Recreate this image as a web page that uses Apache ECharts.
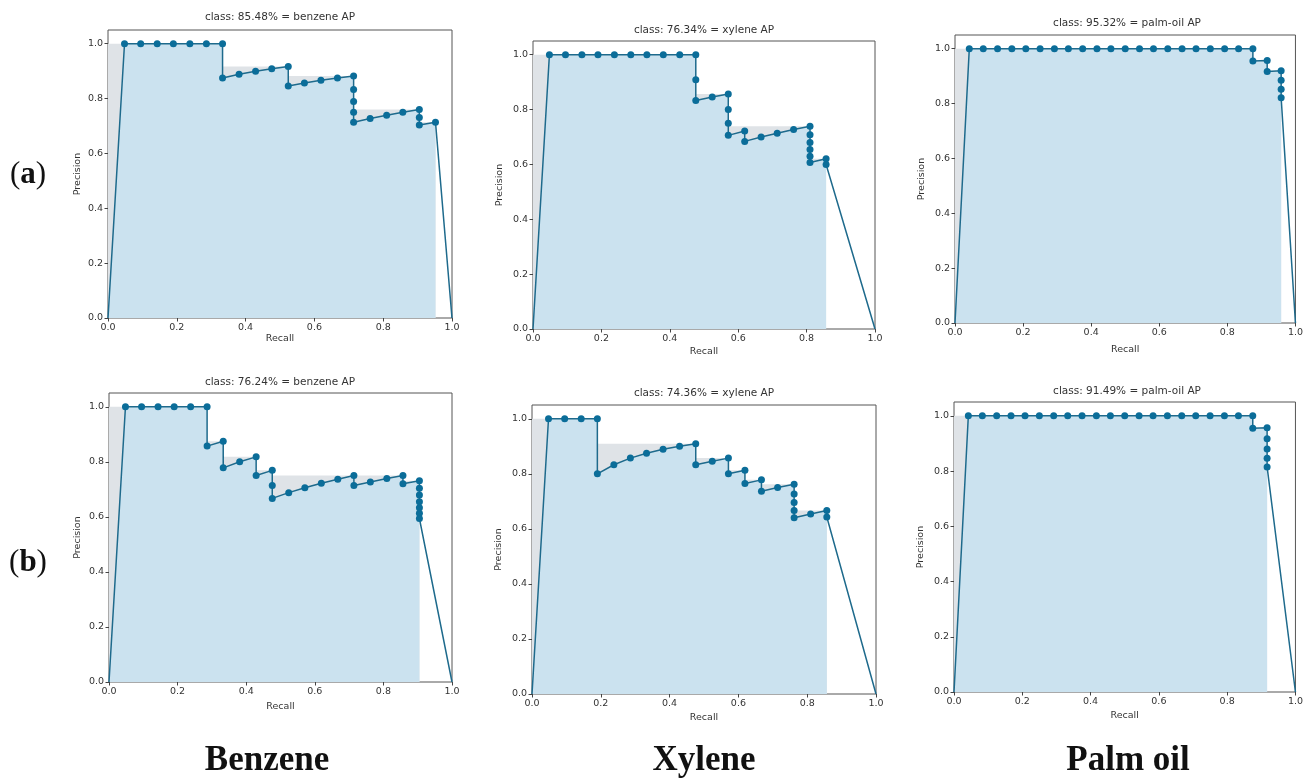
<!DOCTYPE html>
<html>
<head>
<meta charset="utf-8">
<script src="https://cdn.jsdelivr.net/npm/echarts@6/dist/echarts.min.js"></script>
<style>html,body{margin:0;padding:0;background:#fff;}#c{width:1306px;height:780px;}</style>
</head>
<body>
<div id="c"></div>
<script>
// ---- data ----
const titles = [
  'class: 85.48% = benzene AP', 'class: 76.34% = xylene AP', 'class: 95.32% = palm-oil AP',
  'class: 76.24% = benzene AP', 'class: 74.36% = xylene AP', 'class: 91.49% = palm-oil AP'
];
const columnLabels = ['Benzene', 'Xylene', 'Palm oil'];
const rowLabels = ['a', 'b'];
const xTicks = [0, 0.2, 0.4, 0.6, 0.8, 1.0];
const yTicks = [0, 0.2, 0.4, 0.6, 0.8, 1.0];

const recBenzeneA = [0.048,0.095,0.143,0.190,0.238,0.286,0.333,0.333,0.381,0.429,0.476,0.524,0.524,0.571,0.619,0.667,0.714,0.714,0.714,0.714,0.714,0.762,0.810,0.857,0.905,0.905,0.905,0.952];
const precBenzeneA = [1,1,1,1,1,1,1,0.875,0.889,0.900,0.909,0.917,0.846,0.857,0.867,0.875,0.882,0.833,0.789,0.750,0.714,0.727,0.739,0.750,0.760,0.731,0.704,0.714];

const recXyleneA = [0.048,0.095,0.143,0.190,0.238,0.286,0.333,0.381,0.429,0.476,0.476,0.476,0.524,0.571,0.571,0.571,0.571,0.619,0.619,0.667,0.714,0.762,0.810,0.810,0.810,0.810,0.810,0.810,0.857,0.857];
const precXyleneA = [1,1,1,1,1,1,1,1,1,1,0.909,0.833,0.846,0.857,0.800,0.750,0.706,0.722,0.684,0.700,0.714,0.727,0.739,0.708,0.680,0.654,0.630,0.607,0.621,0.600];

const recPalmA = [0.042,0.083,0.125,0.167,0.208,0.250,0.292,0.333,0.375,0.417,0.458,0.500,0.542,0.583,0.625,0.667,0.708,0.750,0.792,0.833,0.875,0.875,0.917,0.917,0.958,0.958,0.958,0.958];
const precPalmA = [1,1,1,1,1,1,1,1,1,1,1,1,1,1,1,1,1,1,1,1,1,0.955,0.957,0.917,0.920,0.885,0.852,0.821];

const recBenzeneB = [0.048,0.095,0.143,0.190,0.238,0.286,0.286,0.333,0.333,0.381,0.429,0.429,0.476,0.476,0.476,0.524,0.571,0.619,0.667,0.714,0.714,0.762,0.810,0.857,0.857,0.905,0.905,0.905,0.905,0.905,0.905,0.905];
const precBenzeneB = [1,1,1,1,1,1,0.857,0.875,0.778,0.800,0.818,0.750,0.769,0.714,0.667,0.688,0.706,0.722,0.737,0.750,0.714,0.727,0.739,0.750,0.720,0.731,0.704,0.679,0.655,0.633,0.613,0.594];

const recXyleneB = [0.048,0.095,0.143,0.190,0.190,0.238,0.286,0.333,0.381,0.429,0.476,0.476,0.524,0.571,0.571,0.619,0.619,0.667,0.667,0.714,0.762,0.762,0.762,0.762,0.762,0.810,0.857,0.857];
const precXyleneB = [1,1,1,1,0.800,0.833,0.857,0.875,0.889,0.900,0.909,0.833,0.846,0.857,0.800,0.813,0.765,0.778,0.737,0.750,0.762,0.727,0.696,0.667,0.640,0.654,0.667,0.643];

const recPalmB = [0.042,0.083,0.125,0.167,0.208,0.250,0.292,0.333,0.375,0.417,0.458,0.500,0.542,0.583,0.625,0.667,0.708,0.750,0.792,0.833,0.875,0.875,0.917,0.917,0.917,0.917,0.917];
const precPalmB = [1,1,1,1,1,1,1,1,1,1,1,1,1,1,1,1,1,1,1,1,1,0.955,0.957,0.917,0.880,0.846,0.815];

const recalls = [recBenzeneA, recXyleneA, recPalmA, recBenzeneB, recXyleneB, recPalmB];
const precisions = [precBenzeneA, precXyleneA, precPalmA, precBenzeneB, precXyleneB, precPalmB];

// ---- layout ----
const grids = [
  {left: 108, top: 30, width: 344, height: 288},
  {left: 533, top: 41, width: 342, height: 288},
  {left: 955, top: 35, width: 344, height: 288},
  {left: 109, top: 393, width: 343, height: 289},
  {left: 532, top: 405, width: 344, height: 289},
  {left: 954, top: 402, width: 345, height: 290}
];
const titlePos = [[280, 17], [704, 30], [1127, 23], [280, 382], [704, 393], [1127, 391]];
const xNameGap = [16, 18, 22, 20, 19, 19];
const yNameGap = [25, 28, 28, 26, 28, 28];

const txt = '#333';
const lineColor = '#1e6a8c';
const dotColor = '#0b6d99';
const blueFill = '#cbe2ef';
const grayFill = '#dfe3e7';

const option = {
  animation: false,
  backgroundColor: '#fff',
  grid: [], xAxis: [], yAxis: [], series: [], graphic: []
};

grids.forEach((g, i) => {
  option.grid.push(Object.assign({show: true, borderColor: '#555', borderWidth: 1, backgroundColor: 'transparent'}, g));
  option.xAxis.push({
    type: 'value', gridIndex: i, min: 0, max: 1, interval: 0.2,
    name: 'Recall', nameLocation: 'middle', nameGap: xNameGap[i],
    nameTextStyle: {color: txt, fontSize: 9.5, fontFamily: 'DejaVu Sans'},
    axisLine: {show: false},
    axisTick: {show: true, inside: false, length: 3.5, lineStyle: {color: '#444'}, customValues: xTicks},
    axisLabel: {color: txt, fontSize: 9.5, fontFamily: 'DejaVu Sans', margin: 5, customValues: xTicks,
      formatter: v => v.toFixed(1)},
    splitLine: {show: false}
  });
  option.yAxis.push({
    type: 'value', gridIndex: i, min: 0, max: 1.05, interval: 0.2,
    name: 'Precision', nameLocation: 'middle', nameGap: yNameGap[i],
    nameTextStyle: {color: txt, fontSize: 9.5, fontFamily: 'DejaVu Sans'},
    axisLine: {show: false},
    axisTick: {show: true, inside: false, length: 3.5, lineStyle: {color: '#444'}, customValues: yTicks},
    axisLabel: {color: txt, fontSize: 9.5, fontFamily: 'DejaVu Sans', margin: 5, customValues: yTicks,
      formatter: v => v.toFixed(1)},
    splitLine: {show: false}
  });

  const rec = recalls[i], prec = precisions[i];
  const n = rec.length;
  // interpolated (monotone) precision envelope, as in the VOC AP computation
  const env = new Array(n);
  let m = 0;
  for (let k = n - 1; k >= 0; k--) { m = Math.max(m, prec[k]); env[k] = m; }
  const envData = [[0, env[0]]];
  for (let k = 0; k < n; k++) envData.push([rec[k], env[k]]);
  envData.push([rec[n - 1], 0]);

  const rawArea = [[0, 0]];
  for (let k = 0; k < n; k++) rawArea.push([rec[k], prec[k]]);

  const lineData = [{value: [0, 0], symbol: 'none'}];
  for (let k = 0; k < n; k++) lineData.push([rec[k], prec[k]]);
  lineData.push({value: [1, 0], symbol: 'none'});

  option.series.push({
    type: 'line', xAxisIndex: i, yAxisIndex: i, data: envData, symbol: 'none',
    lineStyle: {width: 0}, areaStyle: {color: grayFill, opacity: 1}, z: 1, silent: true
  });
  option.series.push({
    type: 'line', xAxisIndex: i, yAxisIndex: i, data: rawArea, symbol: 'none',
    lineStyle: {width: 0}, areaStyle: {color: blueFill, opacity: 1}, z: 2, silent: true
  });
  option.series.push({
    type: 'line', xAxisIndex: i, yAxisIndex: i, data: lineData,
    symbol: 'circle', symbolSize: 7, showAllSymbol: true,
    itemStyle: {color: dotColor}, lineStyle: {color: lineColor, width: 1.5}, z: 3, silent: true
  });

  option.graphic.push({
    type: 'text', x: titlePos[i][0], y: titlePos[i][1],
    style: {text: titles[i], fontSize: 10.5, fontFamily: 'DejaVu Sans', fill: txt, align: 'center', verticalAlign: 'middle'}
  });
});

// row labels
[[28, 175], [28, 563]].forEach((p, i) => {
  option.graphic.push({
    type: 'text', x: p[0], y: p[1],
    style: {
      text: '{n|(}{b|' + rowLabels[i] + '}{n|)}', align: 'center', verticalAlign: 'middle',
      rich: {
        n: {fontSize: 31, fontFamily: 'Liberation Serif', fill: '#111'},
        b: {fontSize: 31, fontFamily: 'Liberation Serif', fontWeight: 'bold', fill: '#111'}
      }
    }
  });
});
// column labels
[267, 704, 1128].forEach((x, i) => {
  option.graphic.push({
    type: 'text', x: x, y: 761,
    style: {text: columnLabels[i], fontSize: 35, fontFamily: 'Liberation Serif', fontWeight: 'bold', fill: '#111', align: 'center', verticalAlign: 'middle'}
  });
});

const chart = echarts.init(document.getElementById('c'), null, {renderer: 'canvas'});
chart.setOption(option);
</script>
</body>
</html>
